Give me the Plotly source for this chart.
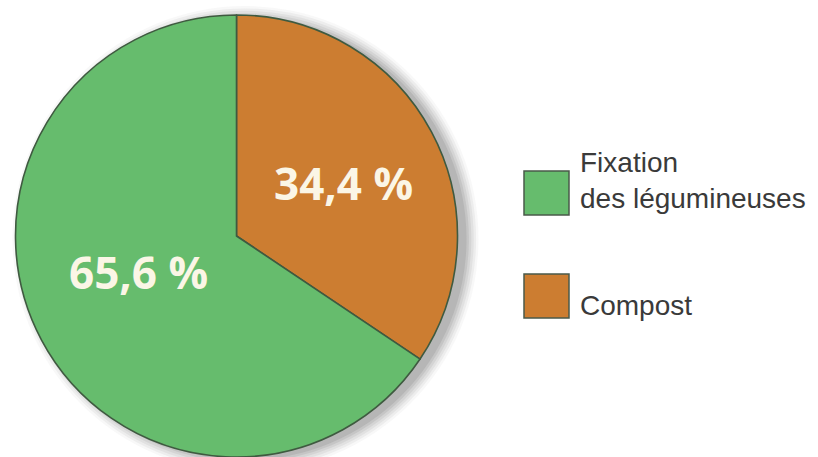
import math
import plotly.graph_objects as go

# ---- data ----
labels = ["Fixation des légumineuses", "Compost"]
legend_lines = ["Fixation<br>des légumineuses", "Compost"]
values = [65.6, 34.4]
colors = ["#66bc6d", "#cc7d31"]

W, H = 818, 457
CX, CY, R = 236.5, 236.0, 221.0   # pie centre / radius in px

def px(x):
    return x / W

def py(y):
    return (H - y) / H

# slices drawn clockwise from 12 o'clock: Compost first, then Fixation
order = [1, 0]
fig = go.Figure()
fig.add_trace(go.Pie(
    labels=[labels[i] for i in order],
    values=[values[i] for i in order],
    sort=False,
    direction="clockwise",
    rotation=0,
    marker=dict(colors=[colors[i] for i in order], line=dict(color="#3f5a40", width=1.6)),
    textinfo="none",
    hoverinfo="label+percent",
    showlegend=False,
    domain=dict(x=[px(CX - R), px(CX + R)], y=[py(CY + R), py(CY - R)]),
))

shapes = []
# soft drop shadow behind the pie
for k, a in enumerate([0.04, 0.06, 0.07, 0.08, 0.10, 0.12]):
    rr = R + 12 - 2.4 * k
    ox, oy = 9, 3
    shapes.append(dict(type="circle", xref="paper", yref="paper", layer="below",
                       x0=px(CX + ox - rr), x1=px(CX + ox + rr),
                       y0=py(CY + oy + rr), y1=py(CY + oy - rr),
                       fillcolor=f"rgba(70,70,70,{a})", line=dict(width=0)))

annotations = []
# percentage labels, positioned from slice mid-angles (clockwise from top)
total = sum(values)
label_frac = {0: 0.47, 1: 0.54}
angle_nudge = {0: 8.0, 1: 1.5}
start = 0.0
for i in order:
    v = values[i]
    span = v / total * 360.0
    mid = start + span / 2.0 + angle_nudge[i]
    start += span
    rad = math.radians(mid)
    rr = R * label_frac[i]
    x = CX + rr * math.sin(rad)
    y = CY - rr * math.cos(rad)
    annotations.append(dict(
        x=px(x), y=py(y), xref="paper", yref="paper", showarrow=False,
        text=f"{v:.1f}".replace(".", ",") + " %",
        font=dict(family="Open Sans", size=44, color="#fbf6e6", weight="bold"),
        xanchor="center", yanchor="middle"))

# custom legend
leg_y = [193, 296]
for i, name in enumerate(legend_lines):
    shapes.append(dict(type="rect", xref="paper", yref="paper",
                       x0=px(524), x1=px(569), y0=py(leg_y[i] + 22), y1=py(leg_y[i] - 22),
                       fillcolor=colors[i], line=dict(color="#4a5a4a", width=1.5)))
leg_text_y = [180, 305]
for i, name in enumerate(legend_lines):
    annotations.append(dict(
        x=px(578), y=py(leg_text_y[i]), xref="paper", yref="paper", showarrow=False,
        text=name, align="left", xanchor="left", yanchor="middle",
        font=dict(family="Liberation Sans", size=28, color="#3a3a3a")))

fig.update_layout(
    width=W, height=H,
    margin=dict(l=0, r=0, t=0, b=0),
    paper_bgcolor="white",
    plot_bgcolor="white",
    shapes=shapes,
    annotations=annotations,
    showlegend=False,
)

fig.write_html("out.html", config={"displayModeBar": False},
               post_script="document.body.style.margin='0';document.body.style.overflow='hidden';")
